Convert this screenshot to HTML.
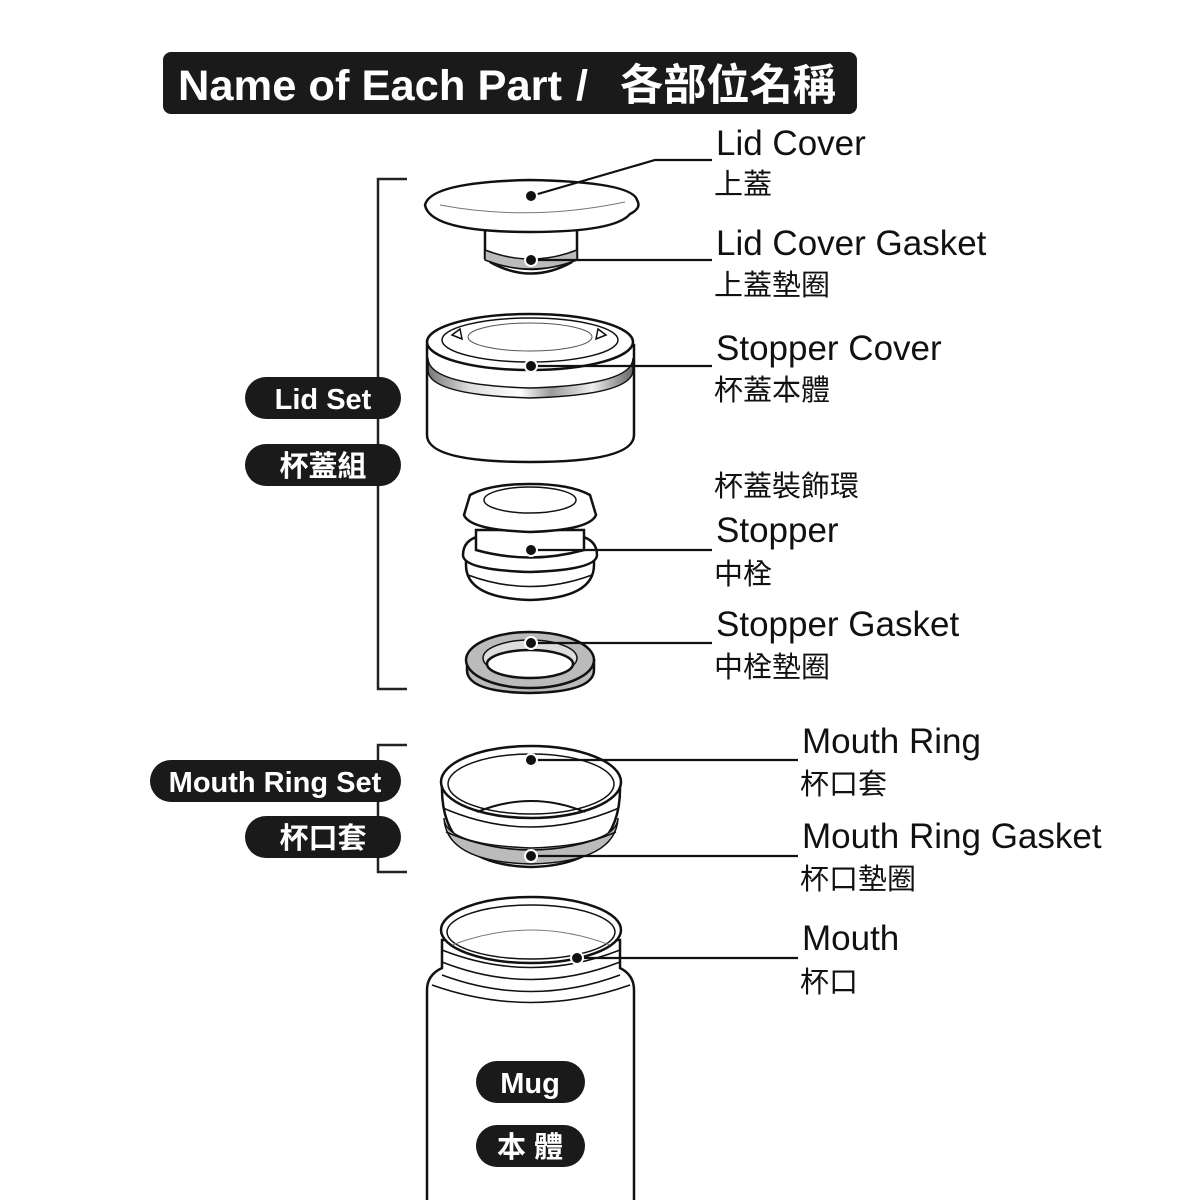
<!DOCTYPE html>
<html><head><meta charset="utf-8"><style>
html,body{margin:0;padding:0;background:#fff}
svg{display:block}
.t{font-family:"Liberation Sans","Noto Sans CJK TC",sans-serif}
</style></head><body>
<svg width="1200" height="1200" viewBox="0 0 1200 1200" xmlns="http://www.w3.org/2000/svg">
<defs>
<linearGradient id="met" x1="0" x2="1" y1="0" y2="0">
<stop offset="0" stop-color="#777"/><stop offset="0.2" stop-color="#ddd"/><stop offset="0.45" stop-color="#fff"/><stop offset="0.6" stop-color="#999"/><stop offset="0.8" stop-color="#eee"/><stop offset="1" stop-color="#666"/>
</linearGradient>
</defs>
<!-- title -->
<rect x="163" y="52" width="694" height="62" rx="8" fill="#1a1a1a"/>
<g class="t" font-size="43" font-weight="bold" fill="#fff">
<text x="178" y="100" textLength="384" lengthAdjust="spacingAndGlyphs">Name of Each Part</text>
<text x="576" y="100">/</text>
<text x="620" y="100" textLength="216" lengthAdjust="spacingAndGlyphs">各部位名稱</text>
</g>

<!-- brackets -->
<g stroke="#222" stroke-width="2.5" fill="none">
<path d="M407 179 H378 V689 H407"/>
<path d="M407 745 H378 V872 H407"/>
</g>

<g stroke="#111" stroke-width="2.5" fill="#fff">
<!-- lid cover -->
<path d="M485 225 V258 Q531 280 577 258 V225 Z"/>
<path d="M485 250 Q531 268 577 250 V260 Q531 278 485 260 Z" fill="#bbb" stroke-width="1.5"/>
<path d="M490 262 Q531 285 572 262" fill="none"/>
<path d="M425 205 Q430 182 530 180 Q632 182 637 200 Q642 208 630 214 Q615 232 530 232 Q430 232 425 205 Z"/>
<path d="M440 205 Q530 222 625 202" fill="none" stroke-width="1" stroke="#777"/>
<!-- stopper cover -->
<path d="M427 345 V435 Q427 462 530 462 Q634 462 634 435 V345 Z"/>
<path d="M428 370 Q428 395 530 398 Q633 395 633 370 V358 Q633 385 530 388 Q428 385 428 358 Z" fill="url(#met)" stroke-width="1.5"/>
<ellipse cx="530" cy="342" rx="103" ry="28"/>
<ellipse cx="530" cy="340" rx="88" ry="22" fill="none" stroke-width="1.5"/>
<ellipse cx="530" cy="337" rx="62" ry="14" fill="none" stroke-width="1" stroke="#555"/>
<path d="M452 335 l8 -6 l2 10 z M606 335 l-8 -6 l-2 10 z" stroke-width="1.5"/>
<!-- stopper -->
<path d="M466 565 Q466 598 530 600 Q594 598 594 565 V545 H466 Z"/>
<path d="M468 575 Q530 598 592 575" fill="none" stroke-width="1.5"/>
<path d="M463 555 Q463 540 480 536 H580 Q597 540 597 555 Q597 570 530 572 Q463 570 463 555 Z"/>
<path d="M476 530 V550 Q530 565 584 550 V530 Z"/>
<path d="M470 495 Q490 484 530 484 Q570 484 590 495 L596 515 Q590 530 530 532 Q470 530 464 515 Z"/>
<ellipse cx="530" cy="500" rx="46" ry="13" fill="none" stroke-width="1.5"/>
<!-- stopper gasket -->
<path d="M467 660 V670 Q467 692 530 693 Q594 692 594 670 V660 Z" fill="#bbb"/>
<ellipse cx="530" cy="660" rx="64" ry="28" fill="#bbb"/>
<ellipse cx="530" cy="658" rx="47" ry="18" fill="#ddd" stroke-width="1.5"/>
<ellipse cx="530" cy="664" rx="43" ry="14"/>
<!-- mouth ring -->
<path d="M442 785 Q440 865 531 867 Q622 865 620 785 Z"/>
<path d="M444 818 Q446 862 531 864 Q616 862 618 818 Q617 845 531 848 Q445 845 444 818 Z" fill="#bbb" stroke-width="1.5"/>
<path d="M443 808 Q531 846 619 808" fill="none" stroke-width="1.5"/>
<path d="M446 832 Q531 868 616 832" fill="none" stroke-width="1.5"/>
<ellipse cx="531" cy="782" rx="90" ry="36"/>
<ellipse cx="531" cy="784" rx="83" ry="30" fill="none" stroke-width="1.5"/>
<path d="M477 812 Q531 790 585 812" fill="none" stroke-width="2"/>
<!-- mug -->
<path d="M427 1200 V990 Q427 975 442 968 V940 H620 V968 Q634 975 634 990 V1200" />
<g fill="none" stroke-width="1.5">
<path d="M442 950 Q531 985 620 950"/>
<path d="M442 962 Q531 997 620 962"/>
<path d="M442 975 Q531 1008 620 975"/>
<path d="M432 985 Q531 1020 630 985"/>
</g>
<ellipse cx="531" cy="930" rx="90" ry="33"/>
<ellipse cx="531" cy="932" rx="84" ry="27" fill="none" stroke-width="1.5"/>
<path d="M452 945 Q531 915 610 945" fill="none" stroke-width="1" stroke="#777"/>
</g>

<g class="t" font-weight="bold" font-size="29" fill="#fff" text-anchor="middle">
<rect x="245" y="377" width="156" height="42" rx="21" fill="#1a1a1a"/><text x="323" y="409">Lid Set</text>
<rect x="245" y="444" width="156" height="42" rx="21" fill="#1a1a1a"/><text x="323" y="476">杯蓋組</text>
<rect x="150" y="760" width="251" height="42" rx="21" fill="#1a1a1a"/><text x="275" y="792">Mouth Ring Set</text>
<rect x="245" y="816" width="156" height="42" rx="21" fill="#1a1a1a"/><text x="323" y="848">杯口套</text>
<rect x="476" y="1061" width="109" height="42" rx="21" fill="#1a1a1a"/><text x="530" y="1093">Mug</text>
<rect x="476" y="1125" width="109" height="42" rx="21" fill="#1a1a1a"/><text x="530" y="1157">本 體</text>
</g>

<!-- leaders -->
<g stroke="#111" stroke-width="2.2" fill="none">
<path d="M531 196 L655 160 H712"/>
<path d="M531 260 H712"/>
<path d="M531 366 H712"/>
<path d="M531 550 H712"/>
<path d="M531 643 H712"/>
<path d="M531 760 H798"/>
<path d="M531 856 H798"/>
<path d="M577 958 H798"/>
</g>
<g fill="#111" stroke="#fff" stroke-width="2">
<circle cx="531" cy="196" r="6"/><circle cx="531" cy="260" r="6"/><circle cx="531" cy="366" r="6"/>
<circle cx="531" cy="550" r="6"/><circle cx="531" cy="643" r="6"/><circle cx="531" cy="760" r="6"/>
<circle cx="531" cy="856" r="6"/><circle cx="577" cy="958" r="6"/>
</g>

<g class="t" fill="#111">
<text x="716" y="155" font-size="35">Lid Cover</text>
<text x="714" y="194" font-size="29">上蓋</text>
<text x="716" y="255" font-size="35">Lid Cover Gasket</text>
<text x="714" y="295" font-size="29">上蓋墊圈</text>
<text x="716" y="360" font-size="35">Stopper Cover</text>
<text x="714" y="400" font-size="29">杯蓋本體</text>
<text x="714" y="496" font-size="29">杯蓋裝飾環</text>
<text x="716" y="542" font-size="35">Stopper</text>
<text x="714" y="584" font-size="29">中栓</text>
<text x="716" y="636" font-size="35">Stopper Gasket</text>
<text x="714" y="677" font-size="29">中栓墊圈</text>
<text x="802" y="753" font-size="35">Mouth Ring</text>
<text x="800" y="794" font-size="29">杯口套</text>
<text x="802" y="848" font-size="35">Mouth Ring Gasket</text>
<text x="800" y="889" font-size="29">杯口墊圈</text>
<text x="802" y="950" font-size="35">Mouth</text>
<text x="800" y="992" font-size="29">杯口</text>
</g>
</svg>
</body></html>
